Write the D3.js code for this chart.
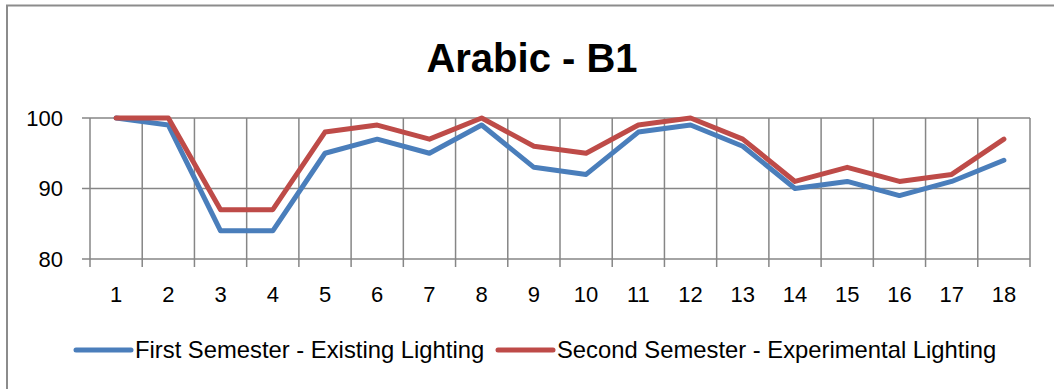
<!DOCTYPE html>
<html><head><meta charset="utf-8">
<script src="https://cdn.jsdelivr.net/npm/d3@7"></script>
<style>body{margin:0;background:#fff}svg{display:block}</style>
</head><body>
<script>
const categories = ["1","2","3","4","5","6","7","8","9","10","11","12","13","14","15","16","17","18"];
const firstSemester = [100,99,84,84,95,97,95,99,93,92,98,99,96,90,91,89,91,94];
const secondSemester = [100,100,87,87,98,99,97,100,96,95,99,100,97,91,93,91,92,97];
const yTicks = [80,90,100];
const seriesNames = ["First Semester - Existing Lighting","Second Semester - Experimental Lighting"];
const title = "Arabic - B1";

(function(){
const W=1054,H=389;
const svg=d3.select("body").append("svg").attr("width",W).attr("height",H);
svg.append("rect").attr("width",W).attr("height",H).attr("fill","#fff");
svg.append("rect").attr("x",7).attr("y",5.5).attr("width",1100).attr("height",500)
  .attr("fill","none").attr("stroke","#8c8c8c").attr("stroke-width",2);

const pl=90,pr=1030,pt=118,pb=259;
const x=d3.scaleBand().domain(categories).range([pl,pr]).padding(0);
const y=d3.scaleLinear().domain([80,100]).range([pb,pt]);
const grid="#868686";
const font="'Liberation Sans', Arial, sans-serif";

svg.append("g").selectAll("line").data(yTicks).join("line")
  .attr("x1",82).attr("x2",pr).attr("y1",d=>y(d)).attr("y2",d=>y(d))
  .attr("stroke",grid).attr("stroke-width",1.5);
const bounds=categories.map(c=>x(c)).concat([pr]);
svg.append("g").selectAll("line").data(bounds).join("line")
  .attr("x1",d=>d).attr("x2",d=>d).attr("y1",pt).attr("y2",pb+8)
  .attr("stroke",grid).attr("stroke-width",1.5);

svg.append("g").selectAll("text").data(yTicks).join("text")
  .attr("x",63).attr("y",d=>y(d)).attr("dy","0.36em").attr("text-anchor","end")
  .attr("font-family",font).attr("font-size",22).attr("fill","#000").text(d=>d);
svg.append("g").selectAll("text").data(categories).join("text")
  .attr("x",d=>x(d)+x.bandwidth()/2).attr("y",302).attr("text-anchor","middle")
  .attr("font-family",font).attr("font-size",22).attr("fill","#000").text(d=>d);

const line=d3.line().x((d,i)=>x(categories[i])+x.bandwidth()/2).y(d=>y(d));
const colors=["#4A7EBB","#BE4B48"];
[firstSemester,secondSemester].forEach((s,i)=>{
  svg.append("path").datum(s).attr("d",line).attr("fill","none")
    .attr("stroke",colors[i]).attr("stroke-width",5).attr("stroke-linejoin","round").attr("stroke-linecap","round");
});

svg.append("text").attr("x",532).attr("y",72).attr("text-anchor","middle")
  .attr("font-family",font).attr("font-weight","bold").attr("font-size",40).attr("fill","#000").text(title);

const legX=[76,498], textX=[135,557];
seriesNames.forEach((n,i)=>{
  svg.append("line").attr("x1",legX[i]).attr("x2",legX[i]+55).attr("y1",350).attr("y2",350)
    .attr("stroke",colors[i]).attr("stroke-width",5).attr("stroke-linecap","round");
  svg.append("text").attr("x",textX[i]).attr("y",358).attr("font-family",font).attr("font-size",23.8)
    .attr("fill","#000").text(n);
});
})();
</script>
</body></html>
